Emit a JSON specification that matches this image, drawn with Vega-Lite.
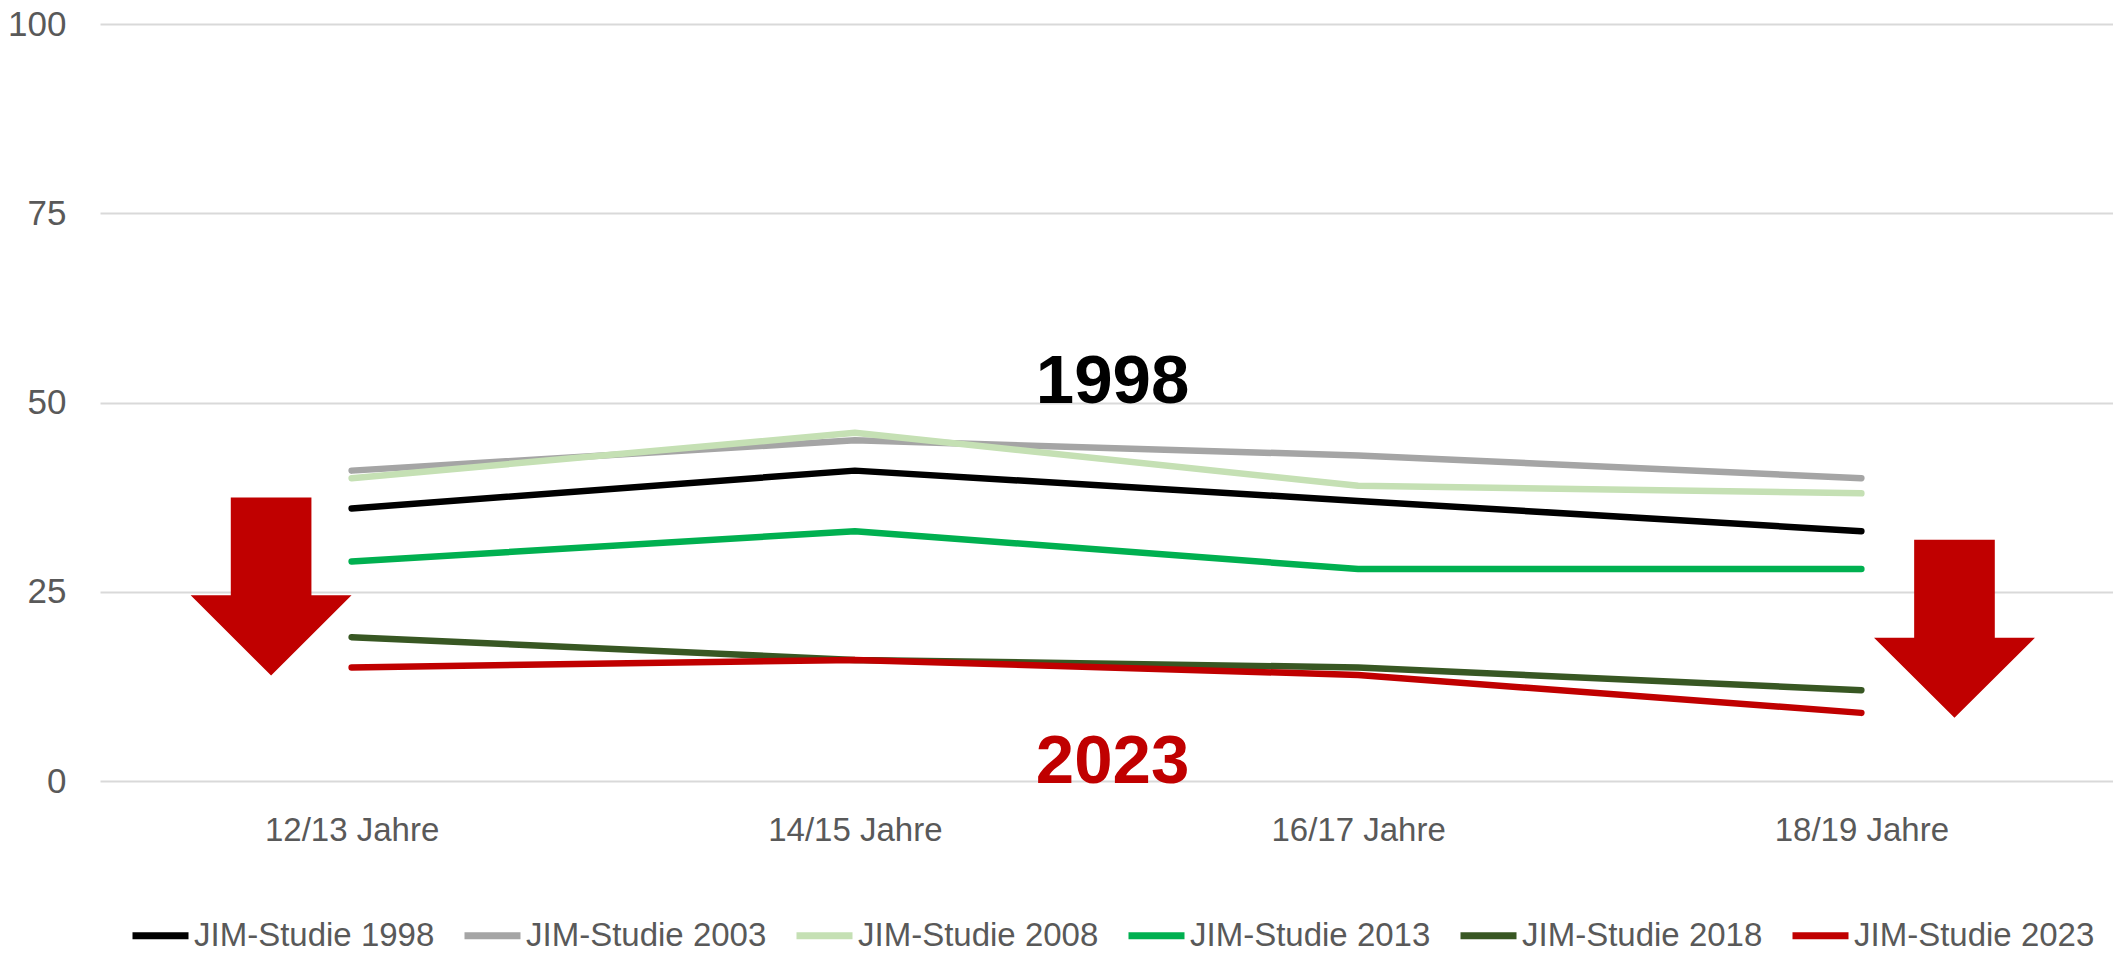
{
  "$schema": "https://vega.github.io/schema/vega-lite/v6.json",
  "width": 2013,
  "height": 757,
  "autosize": {"type": "none"},
  "padding": {"left": 100, "top": 24, "right": 0, "bottom": 175},
  "background": "white",
  "config": {"view": {"stroke": null}, "font": "Liberation Sans"},
  "datasets": {
    "series": [
      {"study": "JIM-Studie 1998", "age": "12/13 Jahre", "value": 36},
      {"study": "JIM-Studie 1998", "age": "14/15 Jahre", "value": 41},
      {"study": "JIM-Studie 1998", "age": "16/17 Jahre", "value": 37},
      {"study": "JIM-Studie 1998", "age": "18/19 Jahre", "value": 33},
      {"study": "JIM-Studie 2003", "age": "12/13 Jahre", "value": 41},
      {"study": "JIM-Studie 2003", "age": "14/15 Jahre", "value": 45},
      {"study": "JIM-Studie 2003", "age": "16/17 Jahre", "value": 43},
      {"study": "JIM-Studie 2003", "age": "18/19 Jahre", "value": 40},
      {"study": "JIM-Studie 2008", "age": "12/13 Jahre", "value": 40},
      {"study": "JIM-Studie 2008", "age": "14/15 Jahre", "value": 46},
      {"study": "JIM-Studie 2008", "age": "16/17 Jahre", "value": 39},
      {"study": "JIM-Studie 2008", "age": "18/19 Jahre", "value": 38},
      {"study": "JIM-Studie 2013", "age": "12/13 Jahre", "value": 29},
      {"study": "JIM-Studie 2013", "age": "14/15 Jahre", "value": 33},
      {"study": "JIM-Studie 2013", "age": "16/17 Jahre", "value": 28},
      {"study": "JIM-Studie 2013", "age": "18/19 Jahre", "value": 28},
      {"study": "JIM-Studie 2018", "age": "12/13 Jahre", "value": 19},
      {"study": "JIM-Studie 2018", "age": "14/15 Jahre", "value": 16},
      {"study": "JIM-Studie 2018", "age": "16/17 Jahre", "value": 15},
      {"study": "JIM-Studie 2018", "age": "18/19 Jahre", "value": 12},
      {"study": "JIM-Studie 2023", "age": "12/13 Jahre", "value": 15},
      {"study": "JIM-Studie 2023", "age": "14/15 Jahre", "value": 16},
      {"study": "JIM-Studie 2023", "age": "16/17 Jahre", "value": 14},
      {"study": "JIM-Studie 2023", "age": "18/19 Jahre", "value": 9}
    ],
    "arrows": [
      {"pos": 0.34, "value": 25.7},
      {"pos": 3.685, "value": 20.1}
    ],
    "labels": [
      {"label": "1998", "pos": 2.012, "value": 50},
      {"label": "2023", "pos": 2.012, "value": -0.3}
    ]
  },
  "layer": [
    {
      "data": {"name": "series"},
      "mark": {"type": "line", "strokeWidth": 6.5, "strokeCap": "round", "strokeJoin": "round"},
      "encoding": {
        "x": {
          "field": "age", "type": "ordinal",
          "sort": ["12/13 Jahre", "14/15 Jahre", "16/17 Jahre", "18/19 Jahre"],
          "scale": {"type": "point", "padding": 0.5},
          "axis": {"title": null, "domain": false, "ticks": false, "grid": false, "labelAngle": 0, "labelFontSize": 33, "labelColor": "#595959", "labelPadding": 33, "labelFont": "Liberation Sans"}
        },
        "y": {
          "field": "value", "type": "quantitative",
          "scale": {"domain": [0, 100], "nice": false},
          "axis": {"title": null, "values": [0, 25, 50, 75, 100], "grid": true, "gridColor": "#d9d9d9", "gridWidth": 2, "domain": false, "ticks": false, "labelFontSize": 35, "labelColor": "#595959", "labelPadding": 34, "labelFont": "Liberation Sans"}
        },
        "color": {
          "field": "study", "type": "nominal",
          "scale": {
            "domain": ["JIM-Studie 1998", "JIM-Studie 2003", "JIM-Studie 2008", "JIM-Studie 2013", "JIM-Studie 2018", "JIM-Studie 2023"],
            "range": ["#000000", "#a5a5a5", "#c5e0b4", "#00b050", "#385723", "#c00000"]
          },
          "legend": {
            "title": null, "orient": "none", "legendX": 29, "legendY": 880,
            "direction": "horizontal", "columns": 6, "columnPadding": 15,
            "symbolType": "stroke", "symbolSize": 3136, "symbolStrokeWidth": 7,
            "labelFontSize": 33, "labelColor": "#595959", "labelOffset": 2, "labelLimit": 400,
            "labelFont": "Liberation Sans", "padding": 0
          }
        }
      }
    },
    {
      "data": {"name": "arrows"},
      "mark": {"type": "point", "shape": "M -0.453 -1 L 0.453 -1 L 0.453 0.1 L 0.904 0.1 L 0 1 L -0.904 0.1 L -0.453 0.1 Z", "filled": true, "color": "#c00000", "opacity": 1, "size": 31684, "strokeWidth": 0},
      "encoding": {
        "x": {"field": "pos", "type": "quantitative", "scale": {"domain": [0, 4], "nice": false, "zero": false}, "axis": null},
        "y": {"field": "value", "type": "quantitative", "title": null}
      }
    },
    {
      "data": {"name": "labels"},
      "transform": [{"filter": "datum.label == '1998'"}],
      "mark": {"type": "text", "font": "Liberation Sans", "fontWeight": "bold", "fontSize": 69, "color": "#000000", "align": "center", "baseline": "alphabetic"},
      "encoding": {
        "x": {"field": "pos", "type": "quantitative", "scale": {"domain": [0, 4], "nice": false, "zero": false}, "axis": null},
        "y": {"field": "value", "type": "quantitative", "title": null},
        "text": {"field": "label"}
      }
    },
    {
      "data": {"name": "labels"},
      "transform": [{"filter": "datum.label == '2023'"}],
      "mark": {"type": "text", "font": "Liberation Sans", "fontWeight": "bold", "fontSize": 69, "color": "#c00000", "align": "center", "baseline": "alphabetic"},
      "encoding": {
        "x": {"field": "pos", "type": "quantitative", "scale": {"domain": [0, 4], "nice": false, "zero": false}, "axis": null},
        "y": {"field": "value", "type": "quantitative", "title": null},
        "text": {"field": "label"}
      }
    }
  ],
  "resolve": {"scale": {"x": "independent"}}
}
